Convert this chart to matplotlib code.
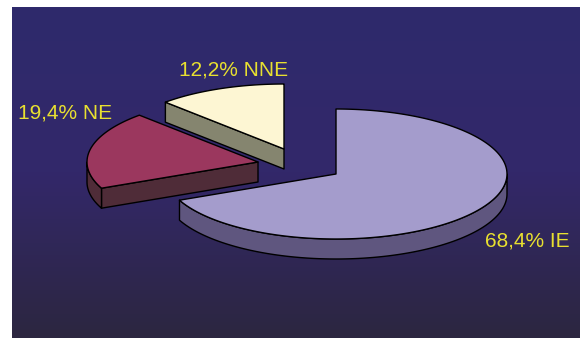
import numpy as np
import matplotlib
matplotlib.use("Agg")
import matplotlib.pyplot as plt
from matplotlib.colors import LinearSegmentedColormap
from matplotlib.patches import Polygon

labels = ['68,4% IE', '19,4% NE', '12,2% NNE']
shares = [68.4, 19.4, 12.2]
top_colors = ['#a49ccc', '#9b375e', '#fdf6d3']
side_colors = ['#5f567f', '#4f2c38', '#85856f']
centers = [(336, 174), (258, 162), (284, 149)]
label_pos = [(485, 241), (18, 113), (179, 70)]

rx = 171
ry = 65
depth = 20

plt.rcParams['font.family'] = ['Liberation Sans', 'DejaVu Sans']

fig = plt.figure(figsize=(5.82, 3.38), dpi=100)
ax = fig.add_axes([0, 0, 1, 1])
ax.axis('off')

# background panel, blue at the top going dark at the bottom
cmap = LinearSegmentedColormap.from_list('bg', ['#2e2a6c', '#33286a', '#2c2640'])
ax.imshow(np.linspace(0, 1, 256).reshape(-1, 1), cmap=cmap, aspect='auto',
          extent=(12, 580, 338, 7), zorder=0)
ax.set_xlim(0, 582)
ax.set_ylim(338, 0)


def rim(cx, cy, a0, a1):
    t = np.radians(np.linspace(a0, a1, 200))
    return np.column_stack([cx + rx * np.cos(t), cy - ry * np.sin(t)])


def draw(poly, color, z):
    ax.add_patch(Polygon(poly, closed=True, facecolor=color, edgecolor='black',
                         linewidth=1.0, joinstyle='round', zorder=z))


# angles run clockwise from 12 o'clock
ends = 90 - np.cumsum(shares) * 3.6
starts = np.concatenate([[90], ends[:-1]])
down = np.array([0, depth])

# back slices first so the big one sits on top
for i in [2, 1, 0]:
    cx, cy = centers[i]
    a0, a1 = starts[i], ends[i]
    z = 3 - i
    apex = np.array([[cx, cy]])
    # cut face that looks to the front
    if i > 0:
        p = rim(cx, cy, a0, a0)[:1]
        draw(np.vstack([apex, p, p + down, apex + down]), side_colors[i], z)
    # outer wall, only the part facing front
    if i == 0:
        arc = rim(cx, cy, 0, a1)
        draw(np.vstack([arc, (arc + down)[::-1]]), side_colors[i], z)
    elif i == 1:
        arc = rim(cx, cy, a0, -180)
        draw(np.vstack([arc, (arc + down)[::-1]]), side_colors[i], z)
    draw(np.vstack([apex, rim(cx, cy, a0, a1)]), top_colors[i], z)

for name, (x, y) in zip(labels, label_pos):
    ax.text(x, y, name, color='#e8e030', fontsize=15, ha='left', va='center', zorder=5)

fig.savefig('out.png', dpi=100, facecolor='white')
